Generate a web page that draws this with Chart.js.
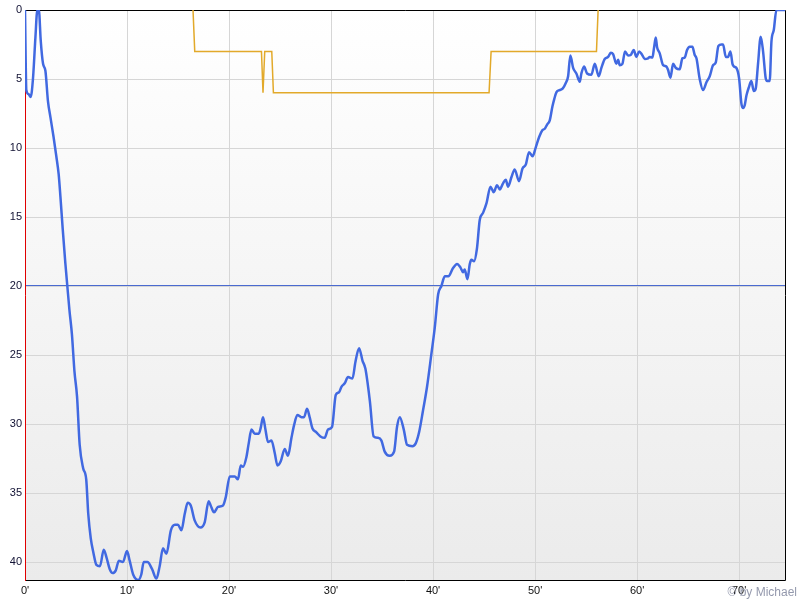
<!DOCTYPE html>
<html>
<head>
<meta charset="utf-8">
<script src="https://cdn.jsdelivr.net/npm/chart.js@4.4.1/dist/chart.umd.min.js"></script>
<style>
  body { margin: 0; background: #fff; }
  #wrap { position: relative; width: 800px; height: 600px; }
  #credit {
    position: absolute; right: 3px; bottom: 1px;
    font: 12px Arial, "Liberation Sans", sans-serif; color: #9499ad;
  }
</style>
</head>
<body>
<div id="wrap">
  <canvas id="diveChart" width="800" height="600"></canvas>
  <div id="credit">© by Michael</div>
</div>
<script>
// dive profile: time in minutes, depth in metres
const diveTimes = [0, 0.13, 0.35, 0.56, 0.78, 1.02, 1.21, 1.36, 1.54, 1.77, 2.0, 2.25, 2.5, 2.8, 3.07, 3.3, 3.47, 3.7, 3.95, 4.15,
  4.35, 4.6, 4.85, 5.1, 5.36, 5.7, 6.0, 6.2, 6.45, 6.7, 7.0, 7.35, 7.72, 8.0, 8.3, 8.6, 8.9, 9.2, 9.6, 10.0,
  10.26, 10.6, 11.1, 11.4, 11.64, 12.0, 12.45, 12.88, 13.2, 13.53, 13.86, 14.3, 14.7, 15.0, 15.33, 15.66, 15.95, 16.25, 16.64, 17.2,
  17.62, 18.0, 18.2, 18.53, 18.92, 19.41, 19.68, 20.07, 20.56, 20.88, 21.15, 21.37, 21.7, 21.93, 22.2, 22.52, 22.91, 23.1, 23.33, 23.57,
  23.82, 24.16, 24.48, 24.75, 25.07, 25.46, 25.78, 26.12, 26.37, 26.7, 27.1, 27.35, 27.65, 27.9, 28.17, 28.56, 28.96, 29.38, 29.7, 30.1,
  30.46, 30.78, 31.02, 31.34, 31.67, 32.1, 32.39, 32.75, 33.08, 33.37, 33.8, 34.18, 34.6, 34.94, 35.26, 35.75, 36.18, 36.47, 36.74, 37.13,
  37.45, 37.98, 38.3, 38.63, 39.02, 39.41, 39.84, 40.17, 40.5, 40.82, 41.15, 41.5, 41.96, 42.35, 42.68, 42.94, 43.1, 43.37, 43.6, 43.76,
  44.02, 44.3, 44.58, 44.9, 45.24, 45.63, 45.95, 46.27, 46.54, 46.86, 47.13, 47.35, 47.69, 48.0, 48.43, 48.76, 49.09, 49.41, 49.75, 50.07,
  50.4, 50.73, 50.95, 51.18, 51.44, 51.7, 51.9, 52.1, 52.4, 52.7, 53.0, 53.24, 53.46, 53.73, 54.05, 54.38, 54.54, 54.8, 55.1, 55.52,
  55.85, 56.24, 56.5, 56.83, 57.16, 57.42, 57.65, 57.97, 58.14, 58.3, 58.56, 58.82, 59.12, 59.38, 59.67, 59.93, 60.2, 60.46, 60.75, 61.08,
  61.24, 61.5, 61.67, 61.83, 61.96, 62.22, 62.55, 62.88, 63.04, 63.27, 63.53, 63.8, 64.18, 64.44, 64.67, 64.9, 65.16, 65.42, 65.65, 65.82,
  66.14, 66.47, 66.8, 67.12, 67.45, 67.71, 67.97, 68.27, 68.43, 68.7, 68.92, 69.15, 69.35, 69.5, 69.74, 70.0, 70.23, 70.4, 70.55, 70.72,
  70.98, 71.2, 71.44, 71.63, 71.86, 72.12, 72.35, 72.61, 72.75, 73.0, 73.17, 73.4, 73.66, 74.5];
const diveDepths = [0, 5.8, 6.1, 6.3, 5.0, 2.0, 0, 0, 2.2, 3.9, 4.4, 6.6, 7.8, 9.2, 10.6, 11.9, 13.5, 15.9, 18.3, 20.0,
  21.7, 23.5, 26.2, 28.0, 31.5, 33.2, 34.0, 36.5, 38.3, 39.3, 40.2, 40.3, 39.1, 39.7, 40.5, 40.8, 40.6, 39.9, 40.0, 39.2,
  39.9, 40.9, 41.3, 40.9, 40.0, 40.0, 40.5, 41.2, 40.3, 39.0, 39.4, 37.7, 37.3, 37.3, 37.7, 36.5, 35.7, 35.9, 37.0, 37.5,
  37.1, 35.6, 35.9, 36.4, 36.0, 35.9, 35.3, 33.8, 33.8, 34.0, 33.0, 33.1, 32.4, 31.4, 30.4, 30.7, 30.7, 30.3, 29.5, 30.4,
  31.3, 31.2, 32.1, 33.0, 32.7, 31.8, 32.3, 31.0, 30.1, 29.35, 29.5, 29.5, 28.9, 29.5, 30.3, 30.6, 30.9, 31.0, 30.4, 30.2,
  27.9, 27.7, 27.3, 27.05, 26.6, 26.7, 25.5, 24.5, 25.4, 26.0, 28.3, 30.9, 31.0, 31.2, 32.0, 32.3, 32.0, 30.2, 29.5, 30.4,
  31.5, 31.6, 31.4, 30.6, 29.0, 27.3, 24.9, 23.0, 20.6, 20.0, 19.3, 19.3, 18.7, 18.4, 18.65, 19.0, 18.8, 19.5, 18.4, 18.1,
  18.2, 17.3, 15.2, 14.7, 14.0, 12.8, 13.2, 12.7, 13.0, 12.56, 12.3, 12.8, 12.1, 11.55, 12.4, 11.5, 11.2, 10.3, 10.6, 9.95,
  9.2, 8.7, 8.6, 8.3, 8.0, 7.0, 6.4, 5.95, 5.8, 5.7, 5.3, 4.8, 3.3, 4.2, 4.6, 5.2, 4.6, 4.1, 4.6, 4.7,
  3.9, 4.8, 4.2, 3.55, 3.4, 3.1, 3.2, 3.9, 3.6, 4.0, 3.9, 3.0, 3.3, 3.26, 2.9, 3.4, 3.0, 3.2, 3.55, 3.5,
  3.4, 3.45, 2.7, 2.0, 2.7, 3.14, 4.0, 4.1, 4.35, 4.9, 3.9, 4.2, 4.3, 3.5, 3.45, 2.9, 2.66, 2.66, 3.26, 3.5,
  5.0, 5.8, 5.24, 4.8, 4.0, 3.8, 2.6, 2.5, 2.5, 3.4, 3.4, 3.0, 3.9, 4.1, 4.2, 4.95, 6.8, 7.1, 6.9, 6.2,
  5.55, 5.14, 5.87, 5.7, 3.86, 1.93, 3.0, 4.95, 5.14, 5.14, 2.3, 1.45, 0, 0];

// deco ceiling
const ceilTimes = [16.47, 16.64, 23.18, 23.33, 23.5, 24.19, 24.35, 45.49, 45.69, 56.02, 56.18];
const ceilDepths = [0, 3, 3, 6, 3, 3, 6, 6, 3, 3, 0];

const maxTime = 74.5;
const maxDepth = 41.3;
const refDepth = 20;
const timeStep = 10;
const depthStep = 5;

const toPoints = (xs, ys) => xs.map((x, i) => ({ x: x, y: ys[i] }));
// drop the min/max ticks that chart.js adds when they are not on the step
const keepStep = step => s => { s.ticks = s.ticks.filter(t => t.value % step === 0); };

const framePlugin = {
    id: 'frame',
    beforeDraw(chart) {
        const { ctx, chartArea: a } = chart;
        const g = ctx.createLinearGradient(0, a.top, 0, a.bottom);
        g.addColorStop(0, '#ffffff');
        g.addColorStop(1, '#ebebeb');
        ctx.save();
        ctx.fillStyle = g;
        ctx.fillRect(a.left, a.top, a.right - a.left, a.bottom - a.top);
        ctx.restore();
    },
    beforeDatasetsDraw(chart) {
        const { ctx, chartArea: a, scales } = chart;
        const yRef = Math.round(scales.y.getPixelForValue(refDepth)) - 0.5;
        ctx.save();
        ctx.lineWidth = 1;
        ctx.strokeStyle = '#4a6ad0';
        ctx.beginPath();
        ctx.moveTo(a.left, yRef);
        ctx.lineTo(a.right, yRef);
        ctx.stroke();
        ctx.strokeStyle = '#000';
        ctx.beginPath();
        ctx.moveTo(a.left, a.top + 0.5);
        ctx.lineTo(a.right + 0.5, a.top + 0.5);
        ctx.lineTo(a.right + 0.5, a.bottom + 0.5);
        ctx.lineTo(a.left, a.bottom + 0.5);
        ctx.stroke();
        ctx.strokeStyle = '#e00000';
        ctx.beginPath();
        ctx.moveTo(a.left + 0.5, a.top);
        ctx.lineTo(a.left + 0.5, a.bottom + 1);
        ctx.stroke();
        ctx.restore();
    }
};

new Chart(document.getElementById('diveChart').getContext('2d'), {
    type: 'line',
    data: {
        datasets: [{
            label: 'Ceiling',
            data: toPoints(ceilTimes, ceilDepths),
            borderColor: '#e2a92a',
            borderWidth: 1.5,
            pointRadius: 0,
            tension: 0
        }, {
            label: 'Depth',
            data: toPoints(diveTimes, diveDepths),
            borderColor: '#4169e1',
            borderWidth: 2.5,
            pointRadius: 0,
            tension: 0.35,
            cubicInterpolationMode: 'monotone'
        }]
    },
    options: {
        responsive: false,
        animation: false,
        layout: { padding: { top: 10, right: 15 } },
        plugins: {
            legend: { display: false },
            tooltip: { enabled: false }
        },
        scales: {
            x: {
                type: 'linear',
                min: 0,
                max: maxTime,
                border: { display: false },
                grid: { color: '#d6d6d6', drawTicks: false },
                ticks: {
                    stepSize: timeStep,
                    padding: 4,
                    color: '#111',
                    font: { size: 11, family: 'Arial, "Liberation Sans", sans-serif' },
                    callback: v => v + "'"
                },
                afterBuildTicks: keepStep(timeStep),
                afterFit: s => { s.height = 20; }
            },
            y: {
                reverse: true,
                min: 0,
                max: maxDepth,
                border: { display: false },
                grid: { color: '#d6d6d6', drawTicks: false },
                ticks: {
                    stepSize: depthStep,
                    padding: 3,
                    color: '#111133',
                    font: { size: 11, family: 'Arial, "Liberation Sans", sans-serif' }
                },
                afterBuildTicks: keepStep(depthStep),
                afterFit: s => { s.width = 25; }
            }
        }
    },
    plugins: [framePlugin]
});
</script>
</body>
</html>
